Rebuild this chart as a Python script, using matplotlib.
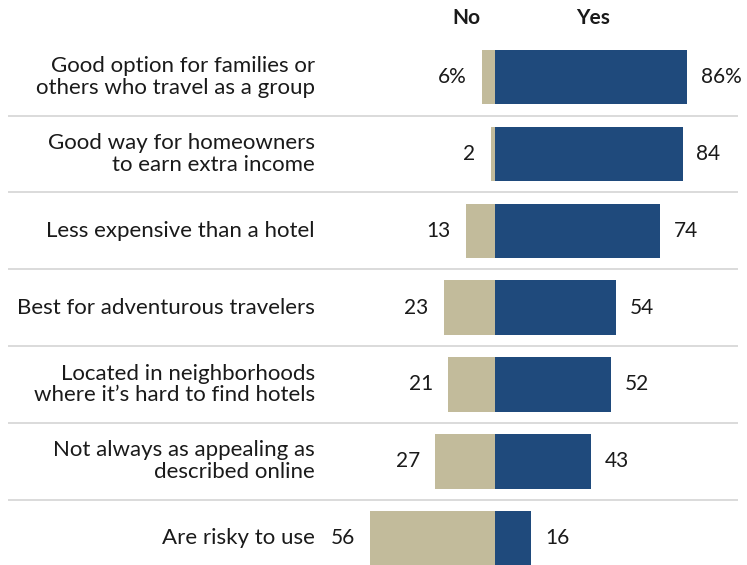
import matplotlib.pyplot as plt

plt.rcParams['font.family'] = ['Lato', 'DejaVu Sans']

statements = [
    "Good option for families or\nothers who travel as a group",
    "Good way for homeowners\nto earn extra income",
    "Less expensive than a hotel",
    "Best for adventurous travelers",
    "Located in neighborhoods\nwhere it\u2019s hard to find hotels",
    "Not always as appealing as\ndescribed online",
    "Are risky to use",
]
no_vals = [6, 2, 13, 23, 21, 27, 56]
yes_vals = [86, 84, 74, 54, 52, 43, 16]

NAVY = "#1f4a7c"
TAN = "#c2bb9b"
TEXT = "#1a1a1a"

fig = plt.figure(figsize=(7.47, 5.65), dpi=100)
ax = fig.add_axes([0, 0, 1, 1])
ax.set_xlim(-222.1, 112.9)
ax.set_ylim(6.35, -1.005)
ax.axis("off")

rows = range(len(statements))
ax.barh(rows, [-v for v in no_vals], height=0.71, color=TAN)
ax.barh(rows, yes_vals, height=0.71, color=NAVY)

for i, (label, n, y) in enumerate(zip(statements, no_vals, yes_vals)):
    ax.text(-80.9, i, label, ha="right", va="center", fontsize=16,
            color=TEXT, linespacing=1.1)
    n_txt = f"{n}%" if i == 0 else str(n)
    y_txt = f"{y}%" if i == 0 else str(y)
    ax.annotate(n_txt, (-n, i), xytext=(-11, 0), textcoords="offset points",
                ha="right", va="center", fontsize=15, color=TEXT)
    ax.annotate(y_txt, (y, i), xytext=(10, 0), textcoords="offset points",
                ha="left", va="center", fontsize=15, color=TEXT)

# thin separators between the rows
for i in range(len(statements) - 1):
    ax.plot([-218.5, 109], [i + 0.5, i + 0.5], color="#d4d4d4", lw=1.2,
            solid_capstyle="butt")

ax.text(-13, -0.77, "No", ha="center", va="center", fontsize=15,
        fontweight="bold", color=TEXT)
ax.text(44, -0.77, "Yes", ha="center", va="center", fontsize=15,
        fontweight="bold", color=TEXT)

fig.savefig("out.png", dpi=100)
